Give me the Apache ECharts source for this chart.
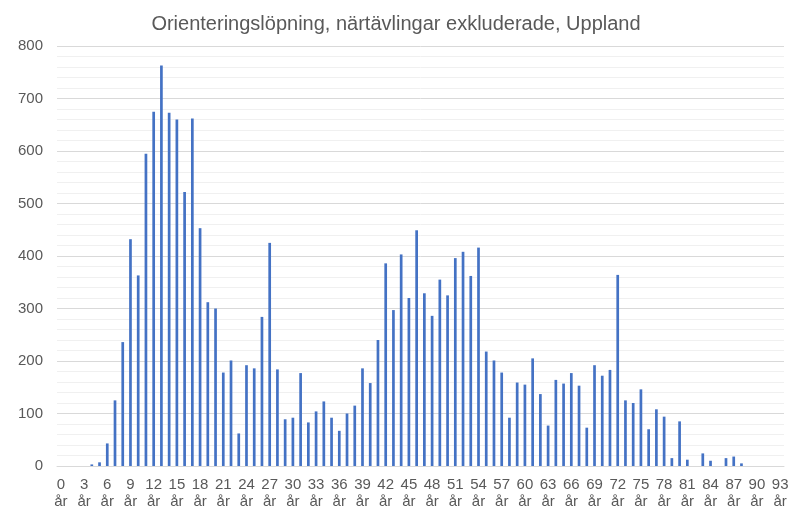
<!DOCTYPE html>
<html>
<head>
<meta charset="utf-8">
<script src="https://cdn.jsdelivr.net/npm/echarts@6/dist/echarts.min.js"></script>
<style>
html,body{margin:0;padding:0;background:#fff;}
#chart{width:792px;height:510px;}
</style>
</head>
<body>
<div id="chart"></div>
<script>
const titleText = "Orienteringslöpning, närtävlingar exkluderade, Uppland";
const ages = [];
for (let a = 0; a <= 93; a++) ages.push(a + "\når");
const counts = [
  0, 0, 0, 0, 3, 7, 43, 125, 236, 432,
  363, 595, 675, 763, 673, 660, 522, 662, 453, 312,
  300, 178, 201, 62, 192, 186, 284, 425, 184, 89,
  92, 177, 83, 104, 123, 92, 67, 100, 115, 186,
  158, 240, 386, 297, 403, 320, 449, 329, 286, 355,
  325, 396, 408, 362, 416, 218, 201, 178, 92, 159,
  155, 205, 137, 77, 164, 157, 177, 153, 73, 192,
  172, 183, 364, 125, 120, 146, 70, 108, 94, 15,
  85, 12, 0, 24, 10, 0, 15, 18, 5, 0,
  0, 0, 0, 0
];
const yTicks = { min: 0, max: 800, interval: 100 };

const chart = echarts.init(document.getElementById('chart'), null, { renderer: 'canvas' });
chart.setOption({
  animation: false,
  backgroundColor: '#ffffff',
  textStyle: { fontFamily: 'Liberation Sans, Arial, sans-serif' },
  title: {
    text: titleText,
    left: 'center',
    top: 9,
    textStyle: { fontSize: 20, fontWeight: 'normal', color: '#595959', fontFamily: 'Liberation Sans, Arial, sans-serif' }
  },
  grid: { left: 57, right: 8, top: 46, bottom: 44, containLabel: false },
  xAxis: {
    type: 'category',
    data: ages,
    axisLine: { lineStyle: { color: '#d9d9d9', width: 1 } },
    axisTick: { show: false },
    axisLabel: {
      interval: 2,
      color: '#595959',
      fontSize: 15,
      lineHeight: 17,
      margin: 10,
      fontFamily: 'Liberation Sans, Arial, sans-serif'
    }
  },
  yAxis: {
    type: 'value',
    min: yTicks.min,
    max: yTicks.max,
    interval: yTicks.interval,
    axisLine: { show: false },
    axisTick: { show: false },
    axisLabel: { color: '#595959', fontSize: 15, margin: 14, fontFamily: 'Liberation Sans, Arial, sans-serif' },
    splitLine: { lineStyle: { color: '#d9d9d9', width: 1 } },
    minorTick: { show: false, splitNumber: 5 },
    minorSplitLine: { show: true, lineStyle: { color: '#f0f0f0', width: 1 } }
  },
  series: [{
    type: 'bar',
    data: counts,
    barWidth: 2.7,
    itemStyle: { color: '#4472C4' }
  }]
});
</script>
</body>
</html>
